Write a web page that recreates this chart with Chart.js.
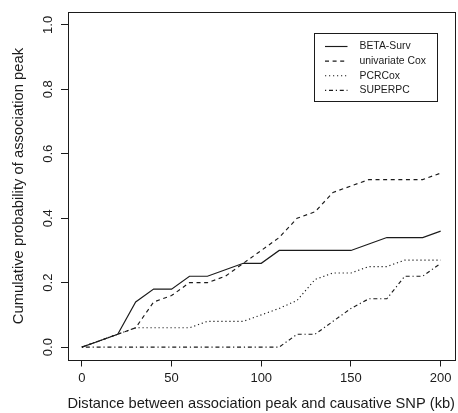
<!DOCTYPE html>
<html>
<head>
<meta charset="utf-8">
<script src="https://cdn.jsdelivr.net/npm/chart.js@4/dist/chart.umd.min.js"></script>
<style>
  html, body { margin: 0; padding: 0; background: #fff; }
  #wrap { width: 458px; height: 413px; }
</style>
</head>
<body>
<div id="wrap"><canvas id="c" width="458" height="413"></canvas></div>
<script>
// Distance between association peak and causative SNP (kb)
const distances = [0, 10, 20, 30, 40, 50, 60, 70, 80, 90, 100, 110, 120, 130, 140, 150, 160, 170, 180, 190, 200];

// Cumulative probability of the association peak, per method
const betaSurv      = [0, 0.02, 0.04, 0.14, 0.18, 0.18, 0.22, 0.22, 0.24, 0.26, 0.26, 0.30, 0.30, 0.30, 0.30, 0.30, 0.32, 0.34, 0.34, 0.34, 0.36];
const univariateCox = [0, 0.02, 0.04, 0.06, 0.14, 0.16, 0.20, 0.20, 0.22, 0.26, 0.30, 0.34, 0.40, 0.42, 0.48, 0.50, 0.52, 0.52, 0.52, 0.52, 0.54];
const pcrCox        = [0, 0.02, 0.04, 0.06, 0.06, 0.06, 0.06, 0.08, 0.08, 0.08, 0.10, 0.12, 0.145, 0.21, 0.23, 0.23, 0.25, 0.25, 0.27, 0.27, 0.27];
const superPC       = [0, 0, 0, 0, 0, 0, 0, 0, 0, 0, 0, 0, 0.04, 0.04, 0.08, 0.12, 0.15, 0.15, 0.22, 0.22, 0.26];

const seriesNames = ['BETA-Surv', 'univariate Cox', 'PCRCox', 'SUPERPC'];

// Axis ticks and titles
const xTicks = [0, 50, 100, 150, 200];
const yTicks = [0, 0.2, 0.4, 0.6, 0.8, 1.0];
const xTitle = 'Distance between association peak and causative SNP (kb)';
const yTitle = 'Cumulative probability of association peak';

const INK = '#1b1b1b';
const FONT = "'Liberation Sans', Arial, Helvetica, sans-serif";

const toPoints = (ys) => distances.map((d, i) => ({ x: d, y: ys[i] }));

const lineStyles = [
  { borderDash: [] },
  { borderDash: [4, 3.6] },
  { borderDash: [1.2, 2.8] },
  { borderDash: [1.2, 2.8, 4, 2.8] }
];

const allSeries = [betaSurv, univariateCox, pcrCox, superPC];

const datasets = allSeries.map((ys, i) => ({
  label: seriesNames[i],
  data: toPoints(ys),
  borderColor: INK,
  borderWidth: 1.15,
  borderDash: lineStyles[i].borderDash,
  pointRadius: 0,
  tension: 0,
  fill: false
}));

// Box around the plot region plus a boxed legend in the upper right
const framePlugin = {
  id: 'frameAndLegend',
  afterDatasetsDraw(chart) {
    const { ctx, chartArea } = chart;
    ctx.save();
    ctx.strokeStyle = INK;
    ctx.lineWidth = 1;
    ctx.setLineDash([]);
    ctx.strokeRect(Math.round(chartArea.left) + 0.5, Math.round(chartArea.top) + 0.5,
                   Math.round(chartArea.right - chartArea.left) - 1, Math.round(chartArea.bottom - chartArea.top));

    // legend box
    const bx = Math.round(chartArea.right) - 141 + 0.5;
    const by = Math.round(chartArea.top) + 21 + 0.5;
    const bw = 123, bh = 68;
    ctx.fillStyle = '#fff';
    ctx.fillRect(bx, by, bw, bh);
    ctx.strokeRect(bx, by, bw, bh);

    ctx.font = '10.4px ' + FONT;
    ctx.textBaseline = 'middle';
    ctx.textAlign = 'left';
    chart.data.datasets.forEach((ds, i) => {
      const y = by + 13 + i * 14.6;
      ctx.beginPath();
      ctx.setLineDash(ds.borderDash || []);
      ctx.lineWidth = ds.borderWidth;
      ctx.strokeStyle = ds.borderColor;
      ctx.moveTo(bx + 10.5, y);
      ctx.lineTo(bx + 33, y);
      ctx.stroke();
      ctx.setLineDash([]);
      ctx.fillStyle = INK;
      ctx.fillText(ds.label, bx + 45, y);
    });
    ctx.restore();
  }
};

new Chart(document.getElementById('c'), {
  type: 'line',
  data: { datasets },
  options: {
    responsive: false,
    animation: false,
    devicePixelRatio: 1,
    layout: { padding: { top: 12, right: 3, left: 0, bottom: 0 } },
    plugins: {
      legend: { display: false },
      tooltip: { enabled: false }
    },
    scales: {
      x: {
        type: 'linear',
        min: -8,
        max: 208,
        afterBuildTicks: (s) => { s.ticks = xTicks.map(v => ({ value: v })); },
        afterFit: (s) => { s.height = 53; },
        border: { display: false },
        grid: { display: true, drawOnChartArea: false, drawTicks: true, tickLength: 6.5, color: INK, lineWidth: 1 },
        ticks: {
          color: INK,
          font: { family: FONT, size: 13 },
          padding: 4,
          maxRotation: 0,
          minRotation: 0,
          callback: (v) => String(v)
        },
        title: {
          display: true,
          text: xTitle,
          color: INK,
          font: { family: FONT, size: 14.8 },
          padding: { top: 2, bottom: 0 }
        }
      },
      y: {
        type: 'linear',
        min: -0.04,
        max: 1.04,
        afterBuildTicks: (s) => { s.ticks = yTicks.map(v => ({ value: v })); },
        afterFit: (s) => { s.width = 67.5; },
        border: { display: false },
        grid: { display: true, drawOnChartArea: false, drawTicks: true, tickLength: 6.5, color: INK, lineWidth: 1 },
        ticks: {
          color: INK,
          font: { family: FONT, size: 13 },
          padding: 4,
          crossAlign: 'center',
          minRotation: 90,
          maxRotation: 90,
          callback: (v) => Number(v).toFixed(1)
        },
        title: {
          display: true,
          text: yTitle,
          color: INK,
          font: { family: FONT, size: 14.8 },
          padding: { top: 10, bottom: 2 }
        }
      }
    }
  },
  plugins: [framePlugin]
});
</script>
</body>
</html>
